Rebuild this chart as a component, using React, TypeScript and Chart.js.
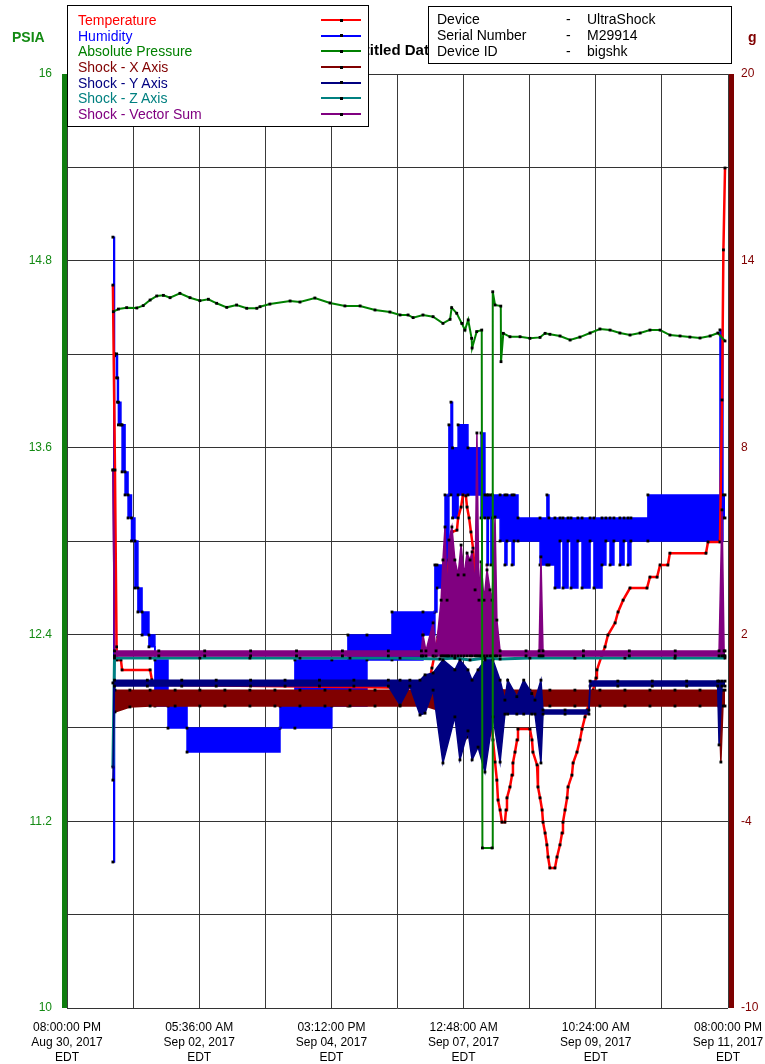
import React, { useEffect, useRef } from 'react';
import { Chart, registerables } from 'chart.js';

Chart.register(...registerables);

const FONT = "'Liberation Sans', Arial, sans-serif";

// ---- axes / ticks ----
const xTickHours = [0, 28.8, 57.6, 86.4, 115.2, 144, 172.8, 201.6, 230.4, 259.2, 288];
const xTickLabels = [
  ['08:00:00 PM', 'Aug 30, 2017', 'EDT'],
  ['05:36:00 AM', 'Sep 02, 2017', 'EDT'],
  ['03:12:00 PM', 'Sep 04, 2017', 'EDT'],
  ['12:48:00 AM', 'Sep 07, 2017', 'EDT'],
  ['10:24:00 AM', 'Sep 09, 2017', 'EDT'],
  ['08:00:00 PM', 'Sep 11, 2017', 'EDT'],
];
const psiaTicks = [10, 10.6, 11.2, 11.8, 12.4, 13, 13.6, 14.2, 14.8, 15.4, 16];
const psiaLabelTicks = [10, 11.2, 12.4, 13.6, 14.8, 16];
const gTicks = [-10, -7, -4, -1, 2, 5, 8, 11, 14, 17, 20];
const gLabelTicks = [-10, -4, 2, 8, 14, 20];

// ---- legend ----
const seriesNames = ['Temperature', 'Humidity', 'Absolute Pressure', 'Shock - X Axis', 'Shock - Y Axis', 'Shock - Z Axis', 'Shock - Vector Sum'];
const seriesColors = ['#ff0000', '#0000ff', '#008000', '#800000', '#000080', '#008080', '#800080'];
const infoLabels = ['Device', 'Serial Number', 'Device ID'];
const infoValues = ['UltraShock', 'M29914', 'bigshk'];

// ---- data (x = hours since Aug 30, 2017 08:00 PM) ----
const pressureHours = [20.2, 22.4, 26.0, 30.4, 33.2, 36.2, 39.1, 42.0, 44.9, 49.2, 53.6, 57.9, 61.6, 65.2, 69.6, 73.9, 78.3, 82.7, 84.1, 88.4, 97.2, 101.5, 108.0, 114.6, 121.1, 127.7, 134.2, 140.7, 145.1, 148.6, 150.8, 155.1, 159.5, 163.8, 166.9, 167.6, 169.8, 172.0, 173.4, 174.8, 176.3, 176.5, 178.5, 180.7, 181.0, 185.2, 185.5, 186.5, 189.0, 189.1, 190.1, 193.0, 197.4, 201.7, 206.1, 208.3, 210.4, 214.8, 219.2, 223.5, 227.9, 232.2, 236.6, 240.9, 245.3, 249.7, 254.0, 258.4, 262.7, 267.1, 271.4, 275.8, 280.2, 283.6, 286.7];
const pressurePsia = [14.473, 14.490, 14.499, 14.497, 14.512, 14.548, 14.574, 14.578, 14.563, 14.591, 14.563, 14.544, 14.553, 14.527, 14.501, 14.516, 14.495, 14.495, 14.505, 14.522, 14.542, 14.535, 14.561, 14.529, 14.510, 14.510, 14.484, 14.471, 14.452, 14.452, 14.435, 14.452, 14.441, 14.398, 14.424, 14.499, 14.463, 14.398, 14.355, 14.420, 14.302, 14.240, 14.345, 14.355, 11.028, 11.028, 14.601, 14.516, 14.509, 14.152, 14.334, 14.312, 14.312, 14.302, 14.308, 14.334, 14.328, 14.317, 14.291, 14.310, 14.336, 14.362, 14.355, 14.336, 14.323, 14.336, 14.355, 14.355, 14.323, 14.317, 14.310, 14.304, 14.317, 14.336, 14.285];

const temperatureHours = [20.0, 20.9, 21.6, 21.8, 23.5, 24.0, 36.2, 37.0, 38.3, 157.3, 159.0, 160.8, 161.6, 162.9, 164.3, 165.6, 166.4, 167.3, 167.7, 169.9, 170.4, 171.7, 172.5, 173.8, 174.3, 175.2, 176.0, 176.9, 177.8, 178.6, 179.5, 180.8, 182.1, 183.0, 183.9, 184.7, 185.6, 186.5, 187.3, 187.8, 188.7, 189.5, 190.8, 191.3, 191.7, 193.0, 193.9, 194.3, 195.2, 196.1, 196.5, 201.7, 202.6, 203.0, 204.8, 205.2, 206.1, 207.0, 207.4, 208.3, 209.1, 209.6, 210.4, 212.6, 213.5, 214.8, 215.7, 216.1, 217.0, 217.9, 218.3, 220.0, 220.5, 222.2, 223.5, 224.4, 225.7, 226.6, 227.9, 229.2, 230.5, 230.9, 233.1, 234.4, 235.7, 238.8, 240.1, 242.3, 245.3, 252.7, 254.0, 257.1, 258.4, 261.8, 262.7, 278.4, 279.3, 284.5, 285.4, 286.0, 286.7];
const temperatureValues = [13.22, 7.28, 1.60, 1.18, 1.18, 0.86, 0.86, 0.54, 0.38, 0.28, 0.92, 1.56, 1.92, 2.46, 3.10, 3.81, 4.39, 4.87, 5.29, 5.35, 5.74, 6.09, 6.48, 6.45, 6.09, 5.74, 5.29, 4.77, 3.91, 3.10, 2.46, 1.82, 1.50, 0.92, 0.21, -0.59, -1.39, -2.10, -2.68, -3.32, -3.64, -4.03, -4.03, -3.64, -3.25, -2.90, -2.52, -2.13, -1.78, -1.39, -1.04, -1.04, -1.39, -1.78, -2.19, -2.90, -3.25, -3.64, -4.03, -4.38, -4.76, -5.15, -5.50, -5.50, -5.15, -4.76, -4.38, -4.03, -3.64, -3.25, -2.90, -2.52, -2.13, -1.78, -1.39, -1.04, -0.65, -0.43, -0.11, 0.21, 0.60, 0.86, 1.34, 1.60, 1.98, 2.37, 2.72, 3.10, 3.49, 3.49, 3.84, 3.84, 4.23, 4.23, 4.61, 4.61, 4.97, 4.97, 9.53, 14.35, 16.98];

// humidity: stepped readings, max / min within each step interval
const humidityHours = [20.0, 20.7, 21.6, 22.0, 22.4, 23.5, 24.0, 25.3, 26.6, 28.1, 29.6, 30.9, 32.7, 35.7, 38.3, 44.0, 52.3, 92.8, 99.3, 115.4, 122.4, 130.7, 141.6, 155.1, 160.3, 161.2, 164.7, 166.4, 167.3, 168.0, 170.4, 174.7, 180.4, 182.1, 183.0, 183.6, 184.7, 185.4, 188.7, 190.8, 191.7, 193.9, 194.8, 196.5, 206.1, 209.1, 210.0, 212.6, 214.8, 216.1, 218.3, 219.6, 222.6, 224.4, 227.9, 229.6, 233.1, 234.8, 236.6, 238.3, 240.9, 242.7, 244.4, 245.7, 253.1, 284.5, 285.8, 286.7];
const humidityMax = [14.76, 11.01, 11.01, 10.24, 9.46, 8.73, 8.73, 7.22, 6.48, 5.74, 5.00, 3.49, 2.72, 1.98, 1.18, -0.30, -1.01, -0.30, 1.18, 1.18, 1.98, 1.98, 2.72, 2.72, 4.23, 4.23, 6.48, 8.73, 9.46, 7.99, 8.73, 7.99, 8.47, 6.48, 6.48, 6.48, 6.48, 6.48, 6.48, 6.48, 6.48, 6.48, 6.48, 5.74, 5.74, 6.48, 5.74, 5.74, 5.74, 5.74, 5.74, 5.74, 5.74, 5.74, 5.74, 5.74, 5.74, 5.74, 5.74, 5.74, 5.74, 5.74, 5.74, 5.74, 6.48, 11.78, 6.48, 6.48];
const humidityMin = [-5.31, 10.95, 10.24, 9.46, 8.73, 8.73, 7.22, 6.48, 5.74, 5.00, 3.49, 2.72, 1.98, 1.60, -0.30, -1.01, -1.78, -1.01, -1.01, -0.30, -0.30, 1.18, 1.18, 1.98, 2.72, 3.49, 3.49, 6.48, 6.48, 5.74, 6.48, 6.48, 5.74, 5.74, 4.23, 5.74, 4.23, 5.74, 5.00, 4.23, 5.00, 4.23, 5.00, 5.00, 4.23, 4.23, 4.23, 3.49, 5.00, 3.49, 5.00, 3.49, 5.00, 3.49, 5.00, 3.49, 4.23, 5.00, 4.23, 5.00, 4.23, 5.00, 4.23, 5.00, 5.00, 5.00, 5.74, 5.74];

// shock channels: peak high / peak low per interval (g)
const shockXHours = [20.9, 27.4, 36.2, 47.1, 57.9, 68.8, 79.7, 90.6, 101.5, 112.4, 123.3, 134.2, 145.1, 156.0, 162.5, 164.7, 169.0, 173.4, 174.3, 176.5, 177.8, 184.3, 193.0, 201.7, 210.4, 221.3, 232.2, 243.1, 254.0, 264.9, 275.8, 284.1, 284.9, 285.8, 286.7];
const shockXMax = [0.21, 0.21, 0.21, 0.21, 0.21, 0.21, 0.21, 0.21, 0.21, 0.21, 0.21, 0.21, 0.21, 0.21, 0.28, 0.28, 0.28, 0.28, 0.28, 0.28, 0.28, 0.24, 0.21, 0.21, 0.21, 0.21, 0.21, 0.21, 0.21, 0.21, 0.21, 0.21, 0.21, 0.21, 0.21];
const shockXMin = [-0.49, -0.33, -0.30, -0.30, -0.30, -0.30, -0.30, -0.30, -0.30, -0.30, -0.30, -0.30, -0.30, -0.30, -0.45, -0.30, -0.35, -0.35, -1.30, -0.90, -0.35, -0.30, -0.30, -0.30, -0.30, -0.30, -0.30, -0.30, -0.30, -0.30, -0.30, -0.30, -2.10, -0.30, -0.30];

const shockYHours = [20.0, 20.7, 35.0, 50.0, 65.0, 80.0, 95.0, 110.0, 125.0, 140.0, 145.1, 149.4, 153.8, 156.0, 159.5, 163.8, 169.0, 171.2, 174.7, 176.5, 179.1, 182.1, 185.6, 188.7, 190.8, 192.0, 196.0, 199.0, 202.5, 203.9, 206.5, 207.4, 217.0, 227.4, 227.9, 240.0, 255.0, 270.0, 283.5, 284.1, 285.4, 286.7];
const shockYMax = [0.44, 0.53, 0.53, 0.53, 0.53, 0.53, 0.53, 0.53, 0.53, 0.53, 0.53, 0.53, 0.53, 0.70, 0.76, 1.18, 0.86, 1.18, 0.86, 0.53, 0.86, 1.18, 1.18, 0.53, -0.11, 0.53, 0.00, 0.53, 0.10, -0.11, 0.53, -0.43, -0.43, -0.43, 0.50, 0.50, 0.50, 0.50, 0.50, 0.50, 0.50, 0.50];
const shockYMin = [-2.68, 0.34, 0.34, 0.34, 0.34, 0.34, 0.34, 0.34, 0.34, 0.34, -0.27, 0.34, -0.59, -0.53, 0.21, -2.13, -0.65, -2.03, -1.10, -2.03, -1.62, -2.42, -0.65, -2.10, -0.56, -0.56, -0.56, -0.56, -0.56, -0.56, -2.13, -0.56, -0.56, -0.56, 0.34, 0.34, 0.34, 0.34, 0.34, -1.55, 0.34, 0.34];

const shockZHours = [20.0, 20.7, 36.2, 57.9, 79.7, 101.5, 123.3, 145.1, 162.5, 169.0, 175.6, 182.1, 188.7, 201.7, 221.3, 243.1, 264.9, 286.7];
const shockZValues = [-2.26, 1.24, 1.24, 1.24, 1.24, 1.24, 1.24, 1.24, 1.21, 1.24, 1.18, 1.24, 1.21, 1.24, 1.24, 1.24, 1.24, 1.24];

const vectorHours = [20.0, 20.7, 40.0, 60.0, 80.0, 100.0, 120.0, 140.0, 154.4, 155.1, 156.4, 159.5, 160.8, 163.0, 163.8, 164.7, 165.6, 166.4, 167.7, 169.0, 170.4, 171.7, 173.0, 174.3, 175.6, 176.5, 177.8, 178.6, 179.5, 180.4, 181.7, 183.0, 184.3, 185.2, 186.5, 187.3, 188.7, 200.0, 205.7, 206.5, 207.4, 225.0, 245.0, 265.0, 284.1, 285.4, 286.3, 286.7];
const vectorMax = [7.28, 1.47, 1.47, 1.47, 1.47, 1.47, 1.47, 1.47, 1.47, 1.98, 1.47, 2.37, 1.47, 3.10, 4.39, 5.45, 3.10, 5.03, 5.45, 4.39, 3.91, 4.87, 3.91, 4.61, 4.39, 4.65, 3.43, 8.47, 3.10, 4.33, 3.10, 4.07, 3.43, 3.10, 5.77, 2.46, 1.47, 1.47, 1.47, 4.49, 1.47, 1.47, 1.47, 1.47, 1.47, 6.00, 1.47, 1.47];
const vectorMin = [7.28, 1.31, 1.31, 1.31, 1.31, 1.31, 1.31, 1.31, 1.31, 1.31, 1.31, 1.31, 1.31, 1.31, 1.31, 1.31, 1.31, 1.31, 1.31, 1.31, 1.31, 1.31, 1.31, 1.31, 1.31, 1.31, 1.31, 1.31, 1.31, 1.31, 1.31, 1.31, 1.31, 1.31, 1.31, 1.31, 1.31, 1.31, 1.31, 1.31, 1.31, 1.31, 1.31, 1.31, 1.31, 1.31, 1.31, 1.31];

const pts = (xs: number[], ys: number[]) => xs.map((x, i) => ({ x, y: ys[i] }));

const line = (label: string, data: any[], color: string, extra: any) => ({
  label,
  data,
  borderColor: color,
  backgroundColor: color,
  borderWidth: 1.5,
  pointStyle: 'rect',
  pointRadius: 2,
  pointHoverRadius: 0,
  pointBackgroundColor: '#000',
  pointBorderWidth: 0,
  fill: false,
  tension: 0,
  yAxisID: 'yR',
  ...extra,
});

const axisBars = {
  id: 'axisBars',
  afterDraw(chart: any) {
    const { ctx, chartArea: a } = chart;
    ctx.save();
    ctx.fillStyle = '#0f7d0f';
    ctx.fillRect(a.left - 5, a.top, 5, a.bottom - a.top);
    ctx.fillStyle = '#7d0000';
    ctx.fillRect(a.right + 1, a.top, 5, a.bottom - a.top);
    ctx.restore();
  },
};

export default function App() {
  const ref = useRef<HTMLCanvasElement>(null);

  useEffect(() => {
    const datasets = [
      line('Absolute Pressure', pts(pressureHours, pressurePsia), '#008000', { yAxisID: 'yL', order: 0, borderWidth: 2 }),
      line('Shock - Y Axis max', pts(shockYHours, shockYMax), '#000080', { order: 1 }),
      line('Shock - Y Axis min', pts(shockYHours, shockYMin), '#000080', { order: 1, fill: '-1' }),
      line('Shock - X Axis max', pts(shockXHours, shockXMax), '#800000', { order: 2 }),
      line('Shock - X Axis min', pts(shockXHours, shockXMin), '#800000', { order: 2, fill: '-1' }),
      line('Shock - Vector Sum max', pts(vectorHours, vectorMax), '#800080', { order: 3 }),
      line('Shock - Vector Sum min', pts(vectorHours, vectorMin), '#800080', { order: 3, fill: '-1' }),
      line('Shock - Z Axis', pts(shockZHours, shockZValues), '#008080', { order: 4, borderWidth: 3 }),
      line('Temperature', pts(temperatureHours, temperatureValues), '#ff0000', { order: 5, borderWidth: 2.5 }),
      line('Humidity max', pts(humidityHours, humidityMax), '#0000ff', { order: 6, stepped: true }),
      line('Humidity min', pts(humidityHours, humidityMin), '#0000ff', { order: 6, stepped: true, fill: '-1' }),
    ];

    const chart = new Chart(ref.current as HTMLCanvasElement, {
      type: 'line',
      data: { datasets } as any,
      plugins: [axisBars],
      options: {
        responsive: false,
        animation: false,
        events: [],
        layout: { padding: { top: 74, left: 0, right: 0, bottom: 0 } },
        plugins: {
          legend: { display: false },
          title: { display: false },
          tooltip: { enabled: false },
        },
        scales: {
          x: {
            type: 'linear',
            min: 0,
            max: 288,
            afterBuildTicks: (s: any) => { s.ticks = xTickHours.map((v) => ({ value: v })); },
            afterFit: (s: any) => { s.height = 56; s.paddingLeft = 0; s.paddingRight = 0; },
            grid: { color: '#3a3a3a', lineWidth: 1, drawTicks: false },
            border: { display: false },
            ticks: {
              autoSkip: false,
              maxRotation: 0,
              minRotation: 0,
              padding: 12,
              color: '#000',
              font: { family: FONT, size: 12, lineHeight: 1.25 },
              callback: (_v: any, i: number) => (i % 2 === 0 ? xTickLabels[i / 2] : ''),
            },
          },
          yL: {
            type: 'linear',
            position: 'left',
            min: 10,
            max: 16,
            afterBuildTicks: (s: any) => { s.ticks = psiaTicks.map((v) => ({ value: v })); },
            afterFit: (s: any) => { s.width = 67; s.paddingTop = 0; s.paddingBottom = 0; },
            grid: { color: '#333', lineWidth: 1, drawTicks: false },
            border: { display: false },
            ticks: {
              padding: 15,
              color: '#138a13',
              font: { family: FONT, size: 12 },
              callback: (v: any) => (psiaLabelTicks.includes(v) ? String(v) : ''),
            },
          },
          yR: {
            type: 'linear',
            position: 'right',
            min: -10,
            max: 20,
            afterBuildTicks: (s: any) => { s.ticks = gTicks.map((v) => ({ value: v })); },
            afterFit: (s: any) => { s.width = 37; s.paddingTop = 0; s.paddingBottom = 0; },
            grid: { display: false, drawTicks: false },
            border: { display: false },
            ticks: {
              padding: 13,
              color: '#800000',
              font: { family: FONT, size: 12 },
              callback: (v: any) => (gLabelTicks.includes(v) ? String(v) : ''),
            },
          },
        },
      } as any,
    });
    return () => chart.destroy();
  }, []);

  const rowTop = (i: number) => 11 + i * 15.67;

  return (
    <div style={{ position: 'absolute', left: 0, top: 0, width: 765, height: 1064, background: '#fff', fontFamily: FONT, overflow: 'hidden' }}>
      <canvas ref={ref} width={765} height={1064} style={{ position: 'absolute', left: 0, top: 0, display: 'block' }} />
      <div style={{ position: 'absolute', left: 291, top: 41, width: 200, textAlign: 'center', fontWeight: 'bold', fontSize: 15, lineHeight: '18px', color: '#000' }}>
        Untitled Data
      </div>
      <div style={{ position: 'absolute', left: 12, top: 29, fontWeight: 'bold', fontSize: 14, lineHeight: '16px', color: '#138a13' }}>PSIA</div>
      <div style={{ position: 'absolute', left: 748, top: 29, fontWeight: 'bold', fontSize: 14, lineHeight: '16px', color: '#800000' }}>g</div>
      <div style={{ position: 'absolute', left: 67, top: 5, width: 302, height: 122, boxSizing: 'border-box', border: '1px solid #000', background: '#fff' }}>
        {seriesNames.map((name, i) => (
          <React.Fragment key={name}>
            <div style={{ position: 'absolute', left: 10, top: rowTop(i) - 5, fontSize: 14, lineHeight: '16px', color: seriesColors[i], whiteSpace: 'nowrap' }}>{name}</div>
            <div style={{ position: 'absolute', left: 253, top: rowTop(i) + 2, width: 40, height: 2, background: seriesColors[i] }} />
            <div style={{ position: 'absolute', left: 272, top: rowTop(i) + 1.5, width: 3, height: 3, background: '#000' }} />
          </React.Fragment>
        ))}
      </div>
      <div style={{ position: 'absolute', left: 428, top: 6, width: 304, height: 58, boxSizing: 'border-box', border: '1px solid #000', background: '#fff' }}>
        {infoLabels.map((lab, i) => (
          <React.Fragment key={lab}>
            <div style={{ position: 'absolute', left: 8, top: 4 + i * 16, fontSize: 14, lineHeight: '16px', color: '#000', whiteSpace: 'nowrap' }}>{lab}</div>
            <div style={{ position: 'absolute', left: 137, top: 4 + i * 16, fontSize: 14, lineHeight: '16px', color: '#000' }}>-</div>
            <div style={{ position: 'absolute', left: 158, top: 4 + i * 16, fontSize: 14, lineHeight: '16px', color: '#000', whiteSpace: 'nowrap' }}>{infoValues[i]}</div>
          </React.Fragment>
        ))}
      </div>
    </div>
  );
}
